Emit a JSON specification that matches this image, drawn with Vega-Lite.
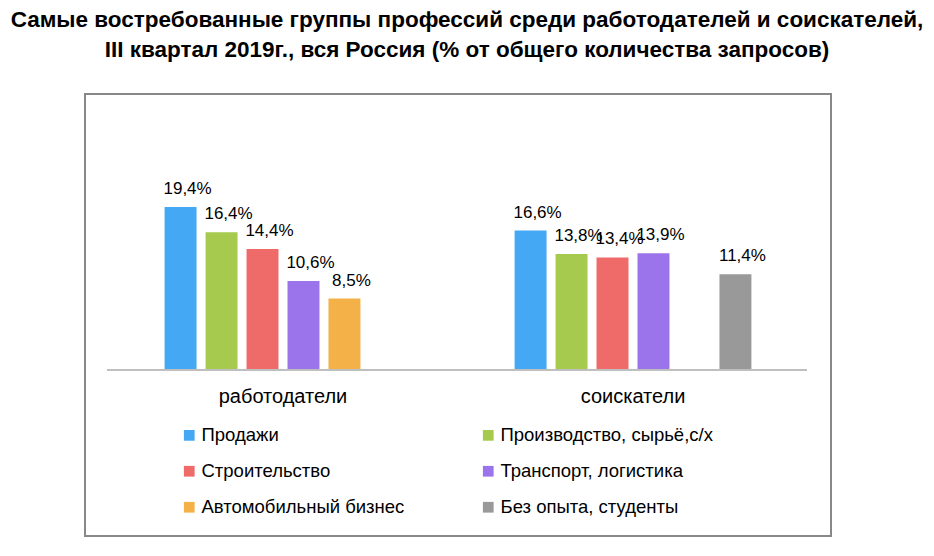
{
  "$schema": "https://vega.github.io/schema/vega-lite/v6.json",
  "width": 746,
  "height": 442,
  "autosize": {"type": "none"},
  "padding": {"left": 85, "top": 94, "right": 103, "bottom": 20},
  "background": "white",
  "title": {
    "text": ["Самые востребованные группы профессий среди работодателей и соискателей,", "III квартал 2019г., вся Россия (% от общего количества запросов)"],
    "font": "Liberation Sans",
    "fontSize": 22.5,
    "fontWeight": "bold",
    "color": "black",
    "anchor": "middle",
    "dx": 9,
    "offset": 33,
    "lineHeight": 30
  },
  "config": {
    "locale": {"number": {"decimal": ",", "thousands": " ", "grouping": [3], "currency": ["", ""]}},
    "view": {"stroke": "#888888", "strokeWidth": 2},
    "font": "Liberation Sans"
  },
  "data": {
    "values": [
      {"group": "работодатели", "category": "Продажи", "value": 0.194},
      {"group": "работодатели", "category": "Производство, сырьё,с/х", "value": 0.164},
      {"group": "работодатели", "category": "Строительство", "value": 0.144},
      {"group": "работодатели", "category": "Транспорт, логистика", "value": 0.106},
      {"group": "работодатели", "category": "Автомобильный бизнес", "value": 0.085},
      {"group": "соискатели", "category": "Продажи", "value": 0.166},
      {"group": "соискатели", "category": "Производство, сырьё,с/х", "value": 0.138},
      {"group": "соискатели", "category": "Строительство", "value": 0.134},
      {"group": "соискатели", "category": "Транспорт, логистика", "value": 0.139},
      {"group": "соискатели", "category": "Без опыта, студенты", "value": 0.114}
    ]
  },
  "layer": [
    {
      "mark": {"type": "bar"},
      "encoding": {
        "x": {"field": "group", "type": "nominal", "axis": null, "sort": ["работодатели", "соискатели"],
              "scale": {"paddingInner": 0.3, "paddingOuter": 0.2157}},
        "xOffset": {"field": "category", "type": "nominal",
              "scale": {"domain": ["Продажи", "Производство, сырьё,с/х", "Строительство", "Транспорт, логистика", "Автомобильный бизнес", "Без опыта, студенты"], "paddingInner": 0.22, "paddingOuter": 0.1}},
        "y": {"field": "value", "type": "quantitative", "axis": null,
              "scale": {"domain": [-0.1976, 0.3286], "nice": false, "zero": false}},
        "y2": {"datum": 0},
        "color": {
          "field": "category", "type": "nominal",
          "scale": {
            "domain": ["Продажи", "Строительство", "Автомобильный бизнес", "Производство, сырьё,с/х", "Транспорт, логистика", "Без опыта, студенты"],
            "range": ["#45A8F5", "#EE6B6A", "#F4B147", "#A6CA4E", "#9B73EA", "#999999"]
          },
          "legend": {
            "orient": "none", "legendX": 95, "legendY": 332, "columns": 2,
            "symbolType": "square", "symbolSize": 115, "symbolStrokeWidth": 0,
            "labelFontSize": 18.5, "labelFont": "Liberation Sans", "labelColor": "black",
            "labelLimit": 400, "columnPadding": 74, "rowPadding": 17, "title": null,
            "labelOffset": 3, "padding": 0
          }
        }
      }
    },
    {
      "mark": {"type": "text", "dx": 7, "dy": -13, "baseline": "alphabetic", "fontSize": 17, "font": "Liberation Sans", "color": "black"},
      "encoding": {
        "x": {"field": "group", "type": "nominal", "axis": null},
        "xOffset": {"field": "category", "type": "nominal"},
        "y": {"field": "value", "type": "quantitative", "axis": null},
        "text": {"field": "value", "type": "quantitative", "format": ".1%"}
      }
    },
    {
      "data": {"values": [{"group": "работодатели"}, {"group": "соискатели"}]},
      "mark": {"type": "text", "baseline": "alphabetic", "fontSize": 20, "font": "Liberation Sans", "color": "black"},
      "encoding": {
        "x": {"field": "group", "type": "nominal", "axis": null},
        "y": {"datum": -0.039, "type": "quantitative", "axis": null},
        "text": {"field": "group", "type": "nominal"}
      }
    },
    {
      "data": {"values": [{}]},
      "mark": {"type": "rule", "color": "#BFBFBF", "strokeWidth": 2},
      "encoding": {
        "x": {"datum": "работодатели", "type": "nominal", "bandPosition": -0.2184, "axis": null},
        "x2": {"datum": "соискатели", "bandPosition": 1.2102},
        "y": {"datum": 0, "type": "quantitative", "axis": null}
      }
    }
  ]
}
